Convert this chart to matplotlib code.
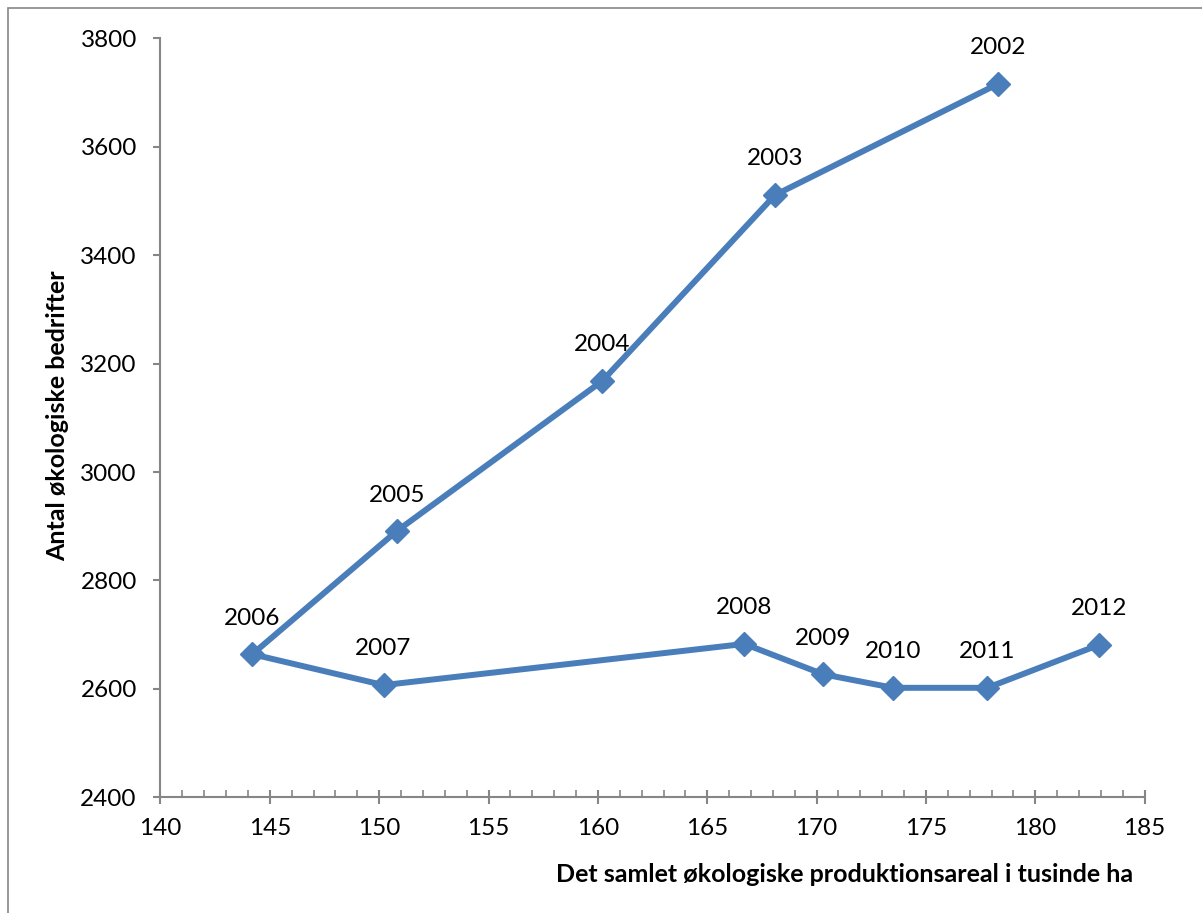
import matplotlib
matplotlib.use("Agg")
import matplotlib.pyplot as plt
from matplotlib.patches import Rectangle
from matplotlib.ticker import MultipleLocator

# data (areal i tusinde ha, antal bedrifter)
years = ["2002", "2003", "2004", "2005", "2006", "2007",
         "2008", "2009", "2010", "2011", "2012"]
areal = [178.3, 168.1, 160.2, 150.8, 144.2, 150.2,
         166.7, 170.3, 173.5, 177.8, 182.9]
bedrifter = [3716, 3511, 3168, 2891, 2664, 2607,
             2683, 2627, 2602, 2602, 2681]

plt.rcParams['font.family'] = ['Lato', 'DejaVu Sans']

blue = "#4A7EBB"
grey = "#868686"

fig = plt.figure(figsize=(12.02, 9.13), dpi=100)
ax = fig.add_axes([0.1335, 0.1267, 0.9523 - 0.1335, 0.958 - 0.1267])

# outer chart border
fig.patches.append(Rectangle((8 / 1202, -0.05), 1.2, 1 - 8 / 913 + 0.05,
                             transform=fig.transFigure, fill=False,
                             edgecolor=grey, linewidth=1.2))

ax.plot(areal, bedrifter, color=blue, linewidth=4.3, marker="D",
        markersize=12.5, markerfacecolor=blue, markeredgecolor=blue,
        solid_joinstyle="round")

for yr, x, y in zip(years, areal, bedrifter):
    ax.annotate(yr, (x, y), xytext=(0, 26), textcoords="offset points",
                ha="center", va="center", fontsize=17.5, color="black")

ax.set_xlim(140, 185)
ax.set_ylim(2400, 3800)
ax.xaxis.set_major_locator(MultipleLocator(5))
ax.xaxis.set_minor_locator(MultipleLocator(1))
ax.yaxis.set_major_locator(MultipleLocator(200))

for s in ["top", "right"]:
    ax.spines[s].set_visible(False)
for s in ["left", "bottom"]:
    ax.spines[s].set_color(grey)
    ax.spines[s].set_linewidth(1.5)

ax.tick_params(axis="x", which="major", direction="inout", length=10,
               width=1.5, color=grey, labelsize=17.5, pad=10)
ax.tick_params(axis="x", which="minor", direction="in", length=5,
               width=1.2, color=grey)
ax.tick_params(axis="y", which="major", direction="out", length=5,
               width=1.5, color=grey, labelsize=17.5, pad=12)

fig.text(1133 / 1202, 1 - 874 / 913,
         "Det samlet økologiske produktionsareal i tusinde ha",
         ha="right", va="center", fontsize=18, fontweight="bold")
fig.text(58 / 1202, 1 - 416 / 913, "Antal økologiske bedrifter",
         ha="center", va="center", rotation=90, fontsize=18,
         fontweight="bold")

fig.savefig("out.png", dpi=100)
